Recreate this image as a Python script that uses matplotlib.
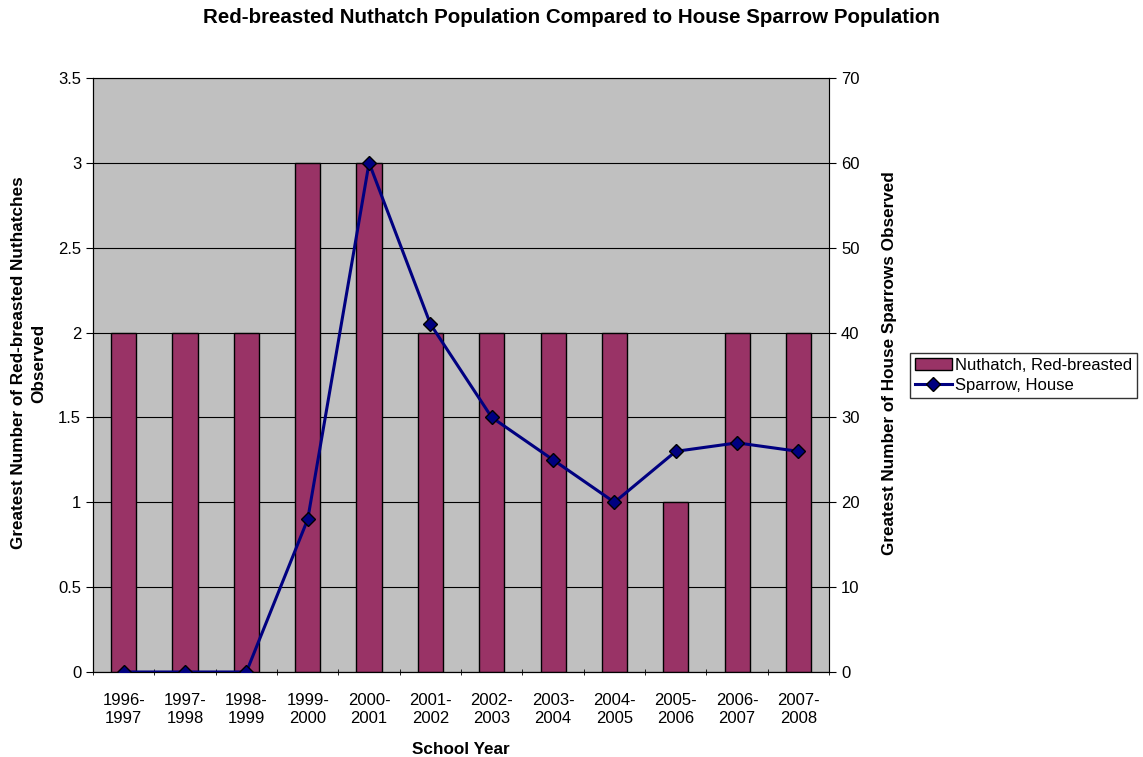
import matplotlib
matplotlib.use("Agg")
import matplotlib.pyplot as plt
import numpy as np

years = ["1996-\n1997", "1997-\n1998", "1998-\n1999", "1999-\n2000", "2000-\n2001",
         "2001-\n2002", "2002-\n2003", "2003-\n2004", "2004-\n2005", "2005-\n2006",
         "2006-\n2007", "2007-\n2008"]
nuthatch = [2, 2, 2, 3, 3, 2, 2, 2, 2, 1, 2, 2]
sparrow = [0, 0, 0, 18, 60, 41, 30, 25, 20, 26, 27, 26]

plt.rcParams['font.family'] = ['Liberation Sans', 'DejaVu Sans']

fig = plt.figure(figsize=(11.43, 7.57), dpi=100)
ax = fig.add_axes([0.0814, 0.1123, 0.644, 0.7847])
ax.set_facecolor("#C0C0C0")

x = np.arange(len(years))
bars = ax.bar(x, nuthatch, width=0.41, color="#993366", edgecolor="black",
              linewidth=1, zorder=3, label="Nuthatch, Red-breasted")
ax.set_xlim(-0.5, len(years) - 0.5)
ax.set_ylim(0, 3.5)
ax.set_yticks(np.arange(0, 3.51, 0.5))
ax.set_yticklabels(["0", "0.5", "1", "1.5", "2", "2.5", "3", "3.5"])
ax.yaxis.grid(True, color="black", linewidth=0.8, zorder=1)
ax.set_axisbelow(True)
ax.set_xticks(x)
ax.set_xticklabels(years, fontsize=12, linespacing=1.25)
ax.set_xticks(np.arange(-0.5, len(years), 1), minor=True)
ax.tick_params(axis="x", which="major", length=0, pad=15)
ax.tick_params(axis="x", which="minor", length=5, direction="inout")
ax.tick_params(axis="y", labelsize=12, direction="out", length=5)
ax.set_xlabel("School Year", fontsize=12.3, fontweight="bold", labelpad=12)
ax.set_ylabel("Greatest Number of Red-breasted Nuthatches\nObserved", fontsize=12.3,
              fontweight="bold", linespacing=1.4)
ax.yaxis.set_label_coords(-0.064, 0.52)
for s in ax.spines.values():
    s.set_color("#808080")
ax.spines["bottom"].set_color("black")
ax.spines["left"].set_color("black")

ax2 = ax.twinx()
line, = ax2.plot(x, sparrow, color="#000080", linewidth=2.2, marker="D", markersize=7,
                 markerfacecolor="#000080", markeredgecolor="black", markeredgewidth=1,
                 zorder=5, label="Sparrow, House")
ax2.set_ylim(0, 70)
ax2.set_yticks(np.arange(0, 71, 10))
ax2.tick_params(axis="y", labelsize=12, direction="out", length=5)
ax2.set_ylabel("Greatest Number of House Sparrows Observed", fontsize=12.3,
               fontweight="bold")
ax2.yaxis.set_label_coords(1.072, 0.52)
ax2.spines["right"].set_color("black")

fig.suptitle("Red-breasted Nuthatch Population Compared to House Sparrow Population",
             fontsize=14.8, fontweight="bold", y=0.977, va="center")

leg = fig.legend([bars, line], ["Nuthatch, Red-breasted", "Sparrow, House"],
                 loc="center left", bbox_to_anchor=(0.789, 0.504), fontsize=12,
                 frameon=True, fancybox=False, edgecolor="black", handlelength=2.2,
                 borderpad=0.3, labelspacing=0.3, handletextpad=0.2)
leg.get_frame().set_linewidth(1)

plt.savefig("out.png", dpi=100)
